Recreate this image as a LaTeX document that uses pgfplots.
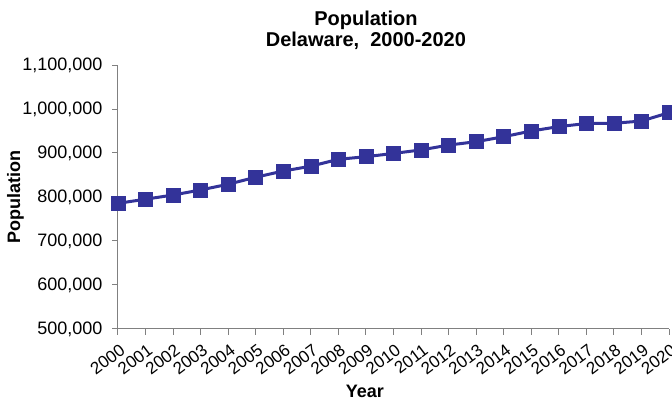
\documentclass[border=0pt]{standalone}
\usepackage{pgfplots}
\pgfplotsset{compat=1.18}
\usepackage{fontspec}
\setmainfont{Liberation Sans}
\definecolor{ser}{HTML}{333399}
\definecolor{axgray}{HTML}{808080}
\begin{document}
\begin{tikzpicture}
\begin{axis}[
  scale only axis,
  width=551pt, height=264pt,
  xmin=2000, xmax=2020,
  ymin=500000, ymax=1100000,
  xtick={2000,2001,...,2020},
  ytick={500000,600000,...,1100000},
  scaled y ticks=false,
  axis lines=left,
  axis line style={-, axgray, line width=1pt},
  tick style={axgray, line width=1pt},
  tick align=outside,
  major tick length=6pt,
  clip=false,
  /pgf/number format/assume math mode=true,
  yticklabel style={font=\fontsize{18}{20}\selectfont, xshift=-6pt, /pgf/number format/.cd, fixed, 1000 sep={,}},
  xticklabel style={font=\fontsize{17}{19}\selectfont, /pgf/number format/1000 sep={}, rotate=37, anchor=north east, inner sep=1pt, yshift=-6pt, xshift=-3pt},
  title={Population\\Delaware,\ \ 2000-2020},
  title style={font=\bfseries\fontsize{20}{21}\selectfont, align=center, at={(axis description cs:0.450,1.183)}, anchor=north, inner sep=0pt},
  xlabel={Year},
  xlabel style={font=\bfseries\fontsize{18}{20}\selectfont, at={(axis description cs:0.4482,-0.2576)}, anchor=base, inner sep=0pt},
  ylabel={Population},
  ylabel style={font=\bfseries\fontsize{18}{20}\selectfont, at={(axis description cs:-0.186,0.5)}, anchor=center, inner sep=0pt},
]
\addplot[color=ser, line width=3pt, mark=square*, mark size=7pt, mark options={solid, fill=ser, line width=0.5pt}] coordinates {
(2000,785600) (2001,795000) (2002,804500) (2003,816000) (2004,829000)
(2005,845000) (2006,859000) (2007,870000) (2008,885700) (2009,891600)
(2010,899000) (2011,907000) (2012,918000) (2013,925700) (2014,937000)
(2015,950000) (2016,960000) (2017,967000) (2018,967500) (2019,972700)
(2020,991600)
};
\end{axis}
\pgfresetboundingbox
\path (-118pt,-74pt) rectangle (554pt,329pt);
\end{tikzpicture}
\end{document}
